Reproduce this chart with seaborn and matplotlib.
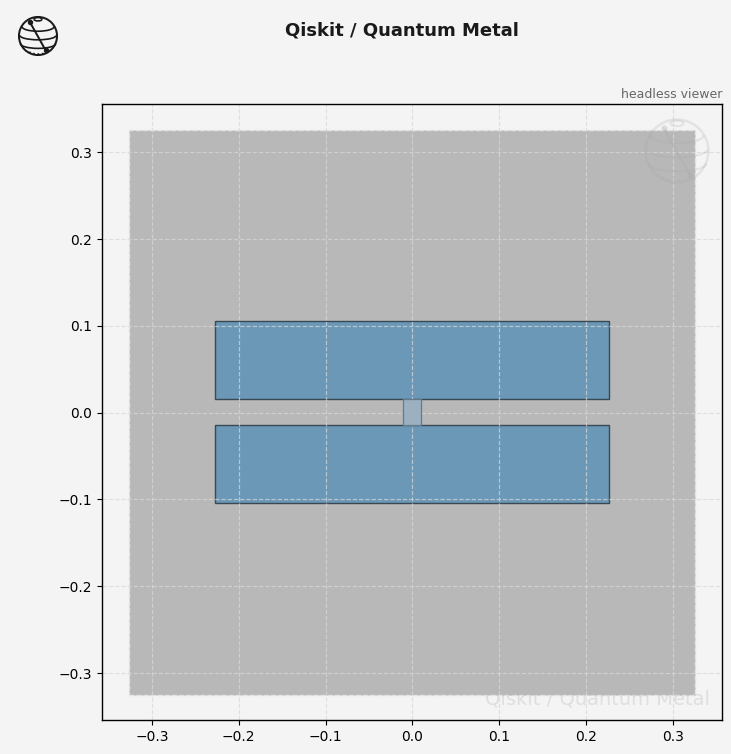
import numpy as np
import seaborn as sns
import matplotlib
matplotlib.use("Agg")
import matplotlib.pyplot as plt
from matplotlib.patches import Rectangle, Circle, Arc

# geometry in mm: x0, y0, width, height
ground = [-0.3262, -0.3255, 0.6522, 0.6515]
pad_top = [-0.2275, 0.0158, 0.4545, 0.09]
pad_bottom = [-0.2275, -0.1045, 0.4545, 0.0903]
junction = [-0.0105, -0.0142, 0.0205, 0.03]

x_ticks = [-0.3, -0.2, -0.1, 0.0, 0.1, 0.2, 0.3]
y_ticks = [-0.3, -0.2, -0.1, 0.0, 0.1, 0.2, 0.3]
x_range = [-0.3575, 0.3568]
y_range = [-0.3541, 0.3556]

title = "Qiskit / Quantum Metal"
viewer_note = "headless viewer"

bg = "#f4f4f4"


# little globe icon with a bond through it
def draw_logo(ax, color, alpha=1.0, lw=1.2):
    ax.set_xlim(-1.05, 1.05)
    ax.set_ylim(-1.05, 1.05)
    ax.set_aspect("equal")
    ax.axis("off")
    ax.patch.set_alpha(0)
    ax.add_patch(Circle((0, 0), 1, fill=False, ec=color, lw=lw * 1.2, alpha=alpha))
    for y, w, h in [(0.88, 0.42, 0.18), (0.5, 1.7, 0.5), (0.05, 1.95, 0.5), (-0.4, 1.85, 0.5)]:
        ax.add_patch(Arc((0, y), w, h, theta1=180, theta2=360, ec=color, lw=lw, alpha=alpha))
    ax.add_patch(Arc((0, 0.88), 0.42, 0.18, theta1=0, theta2=180, ec=color, lw=lw, alpha=alpha))
    ax.add_patch(Arc((0, -0.82), 0.9, 0.25, theta1=180, theta2=360, ec=color, lw=lw, ls=":", alpha=alpha))
    ax.plot([-0.42, 0.4], [0.72, -0.75], color=color, lw=lw * 1.2, marker="o", ms=lw * 2.4, alpha=alpha)


sns.set_style("white")
plt.rcParams["font.family"] = ["DejaVu Sans"]

fig = plt.figure(figsize=(7.31, 7.54), dpi=100, facecolor=bg)
ax = fig.add_axes([102 / 731, 1 - 720 / 754, 620 / 731, 616 / 754])
ax.set_facecolor(bg)

ax.add_patch(Rectangle(ground[:2], ground[2], ground[3], fc="#b8b8b8", ec="#e4e4e4", lw=1.0, ls=(0, (3.5, 1.6)), zorder=1))
ax.add_patch(Rectangle(pad_top[:2], pad_top[2], pad_top[3], fc="#6b98b7", ec="#3a4854", lw=1.0, zorder=2))
ax.add_patch(Rectangle(pad_bottom[:2], pad_bottom[2], pad_bottom[3], fc="#6b98b7", ec="#3a4854", lw=1.0, zorder=2))
ax.add_patch(Rectangle(junction[:2], junction[2], junction[3], fc="#9cb0c0", ec="#64798a", lw=0.9, zorder=3))

ax.set_xlim(x_range)
ax.set_ylim(y_range)
ax.set_xticks(x_ticks)
ax.set_yticks(y_ticks)
ax.grid(True, ls="--", lw=0.85, color="#d8d8d8", alpha=0.72, zorder=4)
ax.set_axisbelow(False)
ax.tick_params(left=True, bottom=True, length=3.5, width=0.8, labelsize=10, color="black", labelcolor="black")
for s in ax.spines.values():
    s.set_color("black")
    s.set_linewidth(1.0)
    s.set_zorder(6)

fig.text(402 / 731, 1 - 30 / 754, title, ha="center", va="center", fontsize=13, fontweight="bold", color="#1a1a1a")
fig.text(722 / 731, 1 - 95 / 754, viewer_note, ha="right", va="center", fontsize=9, color="#666666")
fig.text(710 / 731, 1 - 699 / 754, title, ha="right", va="center", fontsize=14, color="#b8b8b8", alpha=0.35, zorder=10)

logo_ax = fig.add_axes([(38 - 20) / 731, 1 - (36 + 20) / 754, 40 / 731, 40 / 754])
draw_logo(logo_ax, "#1a1a1a")

mark_ax = fig.add_axes([(677 - 33) / 731, 1 - (151 + 33) / 754, 66 / 731, 66 / 754], zorder=5)
draw_logo(mark_ax, "#a8a8a8", alpha=0.22, lw=1.5)

fig.savefig("out.png", dpi=100, facecolor=bg)
